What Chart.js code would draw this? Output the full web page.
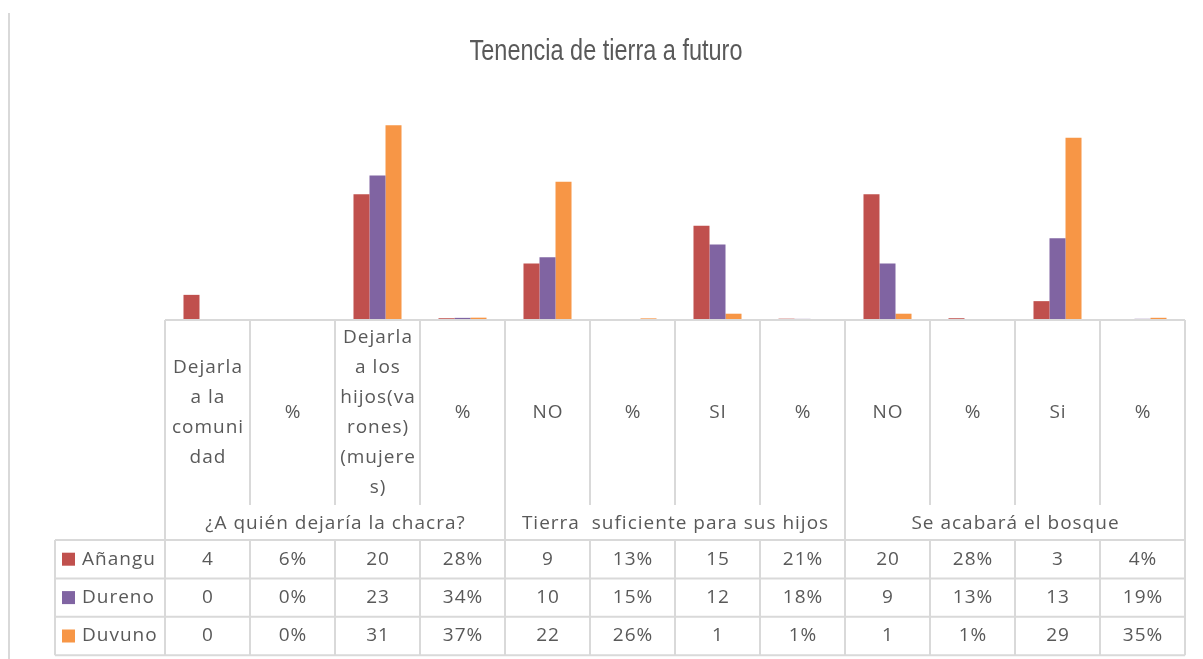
<!DOCTYPE html>
<html>
<head>
<meta charset="utf-8">
<script src="https://cdn.jsdelivr.net/npm/chart.js@4/dist/chart.umd.min.js"></script>
<style>
  html, body { margin: 0; padding: 0; background: #fff; }
  #wrap { width: 1203px; height: 659px; position: relative; }
</style>
</head>
<body>
<div id="wrap"><canvas id="tierraChart"></canvas></div>
<script>
// Categorías (etiquetas de la tabla, en varias líneas como en Excel)
const categories = [
    ['Dejarla', 'a la', 'comuni', 'dad'], ['%'],
    ['Dejarla', 'a los', 'hijos(va', 'rones)', '(mujere', 's)'], ['%'],
    ['NO'], ['%'], ['SI'], ['%'],
    ['NO'], ['%'], ['Si'], ['%']
];
const groups = ['¿A quién dejaría la chacra?', 'Tierra  suficiente para sus hijos', 'Se acabará el bosque'];
const seriesNames = ['Añangu', 'Dureno', 'Duvuno'];
const chartTitle = 'Tenencia de tierra a futuro';

// Datos (los % van como fracción, igual que en la hoja)
const anangu = [4, 0.06, 20, 0.28, 9, 0.13, 15, 0.21, 20, 0.28, 3, 0.04];
const dureno = [0, 0, 23, 0.34, 10, 0.15, 12, 0.18, 9, 0.13, 13, 0.19];
const duvuno = [0, 0, 31, 0.37, 22, 0.26, 1, 0.01, 1, 0.01, 29, 0.35];

const colors = ['#C0504D', '#8064A2', '#F79646'];
const gridColor = '#D9D9D9';
const textColor = '#595959';
const tableFont = '19px "Open Sans"';

function cellText(v, i) {
    return (i % 2 === 1) ? Math.round(v * 100) + '%' : String(v);
}

// Dibuja título y tabla de datos debajo del gráfico
const dataTable = {
    id: 'dataTable',
    afterDatasetsDraw(chart) {
        const ctx = chart.ctx;
        const xs = chart.scales.x;
        const top = chart.chartArea.bottom;
        const left = chart.chartArea.left;
        const right = chart.chartArea.right;
        const n = chart.data.labels.length;
        const colW = (right - left) / n;
        const catBottom = top + 185;
        const groupBottom = top + 220;
        const rowH = 38.4;
        const legLeft = 55;
        const tableBottom = groupBottom + rowH * 3;

        ctx.save();
        // título (fuente estrecha tipo Arial Narrow)
        ctx.fillStyle = textColor;
        ctx.font = '29px "Liberation Sans"';
        ctx.textAlign = 'center';
        ctx.textBaseline = 'middle';
        ctx.save();
        ctx.translate(606, 52);
        ctx.scale(0.81, 1);
        ctx.fillText(chartTitle, 0, 0);
        ctx.restore();

        ctx.strokeStyle = gridColor;
        ctx.lineWidth = 2;
        ctx.beginPath();
        // marco izquierdo del gráfico
        ctx.moveTo(9, 13); ctx.lineTo(9, 659);
        // línea superior de la tabla
        ctx.moveTo(left, top); ctx.lineTo(right, top);
        for (let i = 0; i <= n; i++) {
            const x = left + i * colW;
            const full = (i % 4 === 0);
            ctx.moveTo(x, top);
            ctx.lineTo(x, full ? tableBottom : catBottom);
            if (!full) { ctx.moveTo(x, groupBottom); ctx.lineTo(x, tableBottom); }
        }
        ctx.moveTo(legLeft, groupBottom); ctx.lineTo(legLeft, tableBottom);
        for (let r = 0; r <= 3; r++) {
            const y = groupBottom + r * rowH;
            ctx.moveTo(legLeft, y); ctx.lineTo(right, y);
        }
        ctx.stroke();

        ctx.fillStyle = textColor;
        ctx.font = tableFont;
        ctx.letterSpacing = '1px';
        ctx.textAlign = 'center';
        ctx.textBaseline = 'middle';
        const midCat = (top + catBottom) / 2;
        chart.data.labels.forEach((lab, i) => {
            const cx = xs.getPixelForValue(i) + 0.5;
            const lh = 30;
            const y0 = midCat - (lab.length - 1) * lh / 2;
            lab.forEach((line, k) => ctx.fillText(line, cx, y0 + k * lh));
        });
        groups.forEach((g, gi) => {
            const cx = left + (gi * 4 + 2) * colW + 0.5;
            ctx.fillText(g, cx, (catBottom + groupBottom) / 2 + 1);
        });
        chart.data.datasets.forEach((ds, r) => {
            const cy = groupBottom + r * rowH + rowH / 2;
            ctx.fillStyle = colors[r];
            ctx.fillRect(62, cy - 6.5, 13, 13);
            ctx.fillStyle = textColor;
            ctx.textAlign = 'left';
            ctx.fillText(ds.label, 82, cy);
            ctx.textAlign = 'center';
            ds.data.forEach((v, i) => ctx.fillText(cellText(v, i), xs.getPixelForValue(i) + 0.5, cy));
        });
        ctx.restore();
    }
};

const ctx1 = document.getElementById('tierraChart').getContext('2d');
const tierraChart = new Chart(ctx1, {
    type: 'bar',
    data: {
        labels: categories,
        datasets: [
            { label: seriesNames[0], data: anangu, backgroundColor: colors[0] },
            { label: seriesNames[1], data: dureno, backgroundColor: colors[1] },
            { label: seriesNames[2], data: duvuno, backgroundColor: colors[2] }
        ]
    },
    options: {
        responsive: true,
        maintainAspectRatio: false,
        animation: false,
        datasets: { bar: { categoryPercentage: 0.565, barPercentage: 1.0 } },
        layout: { padding: { top: 100, left: 165, right: 18, bottom: 339 } },
        plugins: {
            legend: { display: false },
            tooltip: { enabled: false },
            title: { display: false }
        },
        scales: {
            x: { display: false },
            y: { display: false, min: 0, max: 35 }
        }
    },
    plugins: [dataTable]
});
</script>
</body>
</html>
